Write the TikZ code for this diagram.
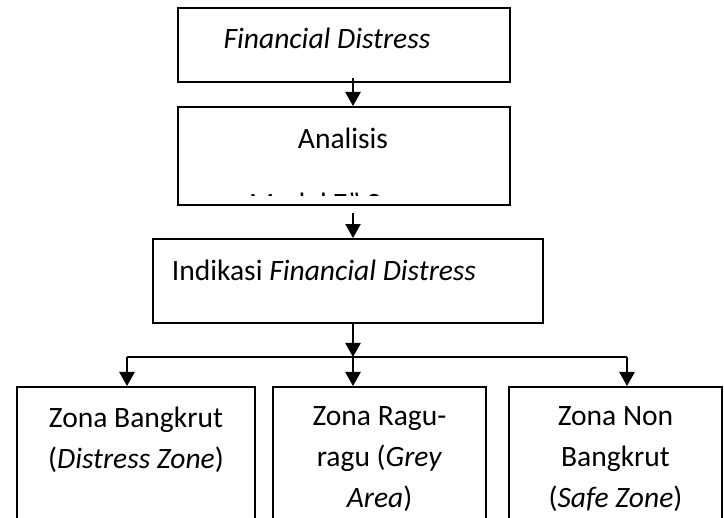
\documentclass[tikz,border=0pt]{standalone}
\usepackage{fontspec}
\setmainfont{Carlito}
\usetikzlibrary{arrows.meta}

\begin{document}
\begin{tikzpicture}[>={Triangle[length=0.35cm,width=0.38cm]},x=0.025cm,y=-0.025cm,line width=1.4pt,
    box/.style={draw,line width=1.4pt,inner sep=0pt},
    txt/.style={font=\fontsize{21pt}{29pt}\selectfont,align=center,inner sep=0pt}]

    % Page frame
    \useasboundingbox (0,0) rectangle (724,518);

    % Financial distress box
    \node [box,minimum width=8.3cm,minimum height=1.85cm] (fd) at (344,45) {};
    \node [txt] (fdtext) at (327,38) {\textit{Financial Distress}};

    % Analysis box (second line cut off by the box)
    \node [box,minimum width=8.3cm,minimum height=2.45cm] (an) at (344,156) {};
    \node [txt] (antext) at (343,138) {Analisis};
    \begin{scope}
        \clip (180,188) rectangle (508,196);
        \node [txt,anchor=base] (model) at (341,214) {Model Z'' Score};
    \end{scope}

    % Indication box
    \node [box,minimum width=9.75cm,minimum height=2.1cm] (ind) at (348,281) {};
    \node [txt] (indtext) at (324,270) {Indikasi \textit{Financial Distress}};

    % Three zones (run off the bottom of the page)
    \node [box,minimum width=5.95cm,minimum height=3.825cm] (zb) at (136,463.5) {};
    \node [txt,anchor=north] (zbtext) at (136,406) {Zona Bangkrut\\(\textit{Distress Zone})};
    \node [box,minimum width=5.325cm,minimum height=3.825cm] (zr) at (379.5,463.5) {};
    \node [txt,anchor=north] (zrtext) at (379.5,406) {Zona Ragu-\\ragu (\textit{Grey}\\\textit{Area})};
    \node [box,minimum width=5.325cm,minimum height=3.825cm] (zn) at (615.5,463.5) {};
    \node [txt,anchor=north] (zntext) at (615.5,406) {Zona Non\\Bangkrut\\(\textit{Safe Zone})};

    % Connectors
    \coordinate (spine) at (353,0);
    \coordinate (split) at (353,357);
    \coordinate (splitl) at (127,357);
    \coordinate (splitr) at (627,357);
    \draw [->,shorten <=-0.125cm] (spine |- fd.south) -- (spine |- an.north);
    \draw [->,shorten <=0.17cm] (spine |- an.south) -- (spine |- ind.north);
    \draw [->] (spine |- ind.south) -- (split);
    \draw (splitl) -- (splitr);
    \draw [->] (splitl) -- (splitl |- zb.north);
    \draw [->] (split) -- (split |- zr.north);
    \draw [->] (splitr) -- (splitr |- zn.north);

\end{tikzpicture}
\end{document}
